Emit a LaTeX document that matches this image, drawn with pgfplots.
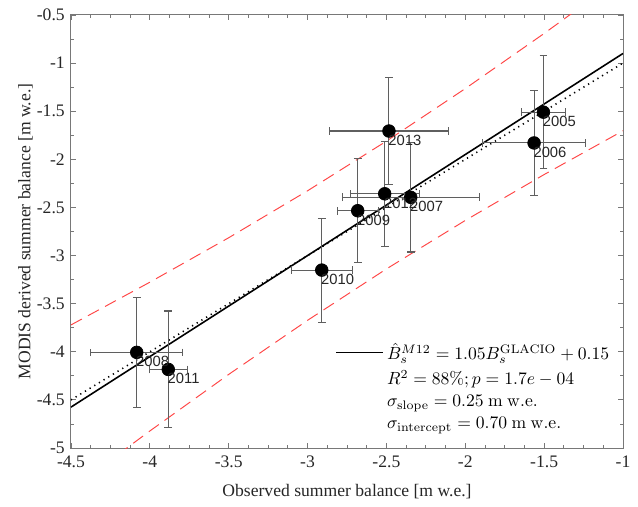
\documentclass[border=0pt]{standalone}
\usepackage[no-math]{fontspec}
\setmainfont{Liberation Serif}
\newfontfamily\lsans{Liberation Sans}
\usepackage{pgfplots}
\usepackage{pgfplotstable}
\pgfplotsset{compat=1.18}
\definecolor{bandred}{RGB}{255,70,70}
\definecolor{ebgray}{RGB}{95,95,95}
\definecolor{txtgray}{RGB}{38,38,38}
\definecolor{axgray}{RGB}{120,120,120}

\pgfplotstableread{
year x y ex ey
2005 -1.505 -1.510 0.138 0.587
2006 -1.564 -1.830 0.325 0.548
2013 -2.484 -1.706 0.377 0.554
2012 -2.511 -2.358 0.218 0.546
2007 -2.346 -2.395 0.434 0.568
2009 -2.682 -2.534 0.131 0.538
2010 -2.910 -3.151 0.193 0.540
2008 -4.083 -4.006 0.293 0.572
2011 -3.883 -4.183 0.120 0.607
}\obsdata

\pgfplotstableread{
x y
-4.5 -3.721
-4.0 -3.277
-3.5 -2.815
-3.0 -2.327
-2.5 -1.811
-2.0 -1.265
-1.5 -0.692
-1.0 -0.097
}\upperband

\pgfplotstableread{
x y
-4.5 -5.429
-4.0 -4.823
-3.5 -4.235
-3.0 -3.673
-2.5 -3.139
-2.0 -2.635
-1.5 -2.158
-1.0 -1.703
}\lowerband

\begin{document}
\begin{tikzpicture}
\begin{axis}[
  scale only axis,
  width=313.6pt, height=246pt,
  xmin=-4.5, xmax=-1, ymin=-5, ymax=-0.5,
  xtick={-4.5,-4,-3.5,-3,-2.5,-2,-1.5,-1},
  ytick={-5,-4.5,-4,-3.5,-3,-2.5,-2,-1.5,-1,-0.5},
  minor x tick num=3, minor y tick num=1,
  tick align=inside,
  major tick length=3pt, minor tick length=1.8pt,
  axis line style={axgray, line width=0.6pt},
  every tick/.style={axgray, line width=0.5pt},
  tick label style={txtgray, font=\fontsize{10}{12}\selectfont},
  xticklabel style={yshift=-1pt},
  /pgf/number format/assume math mode=true,
  xlabel={Observed summer balance [m w.e.]},
  ylabel={MODIS derived summer balance [m w.e.]},
  label style={txtgray, font=\fontsize{10}{12}\selectfont},
  xlabel style={yshift=-2.5pt},
  ylabel style={yshift=-4.5pt},
  legend style={draw=none, fill=none, at={(0.475,0.256)}, anchor=north west,
    font=\fontsize{10}{12}\selectfont, row sep=0.6pt, inner sep=1pt},
  legend cell align=left,
]
\addplot[bandred, line width=0.55pt, dash pattern=on 7pt off 4pt, forget plot] table[x=x,y=y] {\upperband};
\addplot[bandred, line width=0.55pt, dash pattern=on 7pt off 4pt, forget plot] table[x=x,y=y] {\lowerband};
\addplot[black, line width=0.9pt, dash pattern=on 0.7pt off 2.4pt, forget plot] coordinates {(-4.5,-4.5) (-1,-1)};
\addplot[black, line width=0.9pt,
  legend image code/.code={\draw[black, line width=0.9pt] (0cm,0cm) -- (0.93cm,0cm);}]
  coordinates {(-4.5,-4.575) (-1,-0.9)};
\addlegendentry{$\hat{B}_s^{M12} = 1.05B_s^{\mathrm{GLACIO}} + 0.15$}
\addlegendimage{empty legend}
\addlegendentry{$R^2 = 88\%; p = 1.7e-04$}
\addlegendimage{empty legend}
\addlegendentry{$\sigma_{\mathrm{slope}} = 0.25\ \mathrm{m\ w.e.}$}
\addlegendimage{empty legend}
\addlegendentry{$\sigma_{\mathrm{intercept}} = 0.70\ \mathrm{m\ w.e.}$}
\addplot[only marks, mark=*, mark size=3.6pt, black, forget plot,
  error bars/.cd, x dir=both, x explicit, y dir=both, y explicit,
  error bar style={ebgray, line width=0.6pt},
  error mark options={ebgray, rotate=90, mark size=2.2pt, line width=0.6pt}]
  table[x=x, y=y, x error=ex, y error=ey] {\obsdata};
\addplot[only marks, mark=none, forget plot,
  point meta=explicit symbolic,
  nodes near coords,
  every node near coord/.style={anchor=north west, inner sep=0pt, xshift=-0.5pt, yshift=-2.2pt,
    font=\lsans\fontsize{8.4}{10}\selectfont, text=txtgray}]
  table[x=x, y=y, meta=year] {\obsdata};
\end{axis}
\path ([shift={(-40.3pt,-33pt)}]current axis.south west) rectangle ([shift={(8.5pt,8.5pt)}]current axis.north east);
\end{tikzpicture}
\end{document}
